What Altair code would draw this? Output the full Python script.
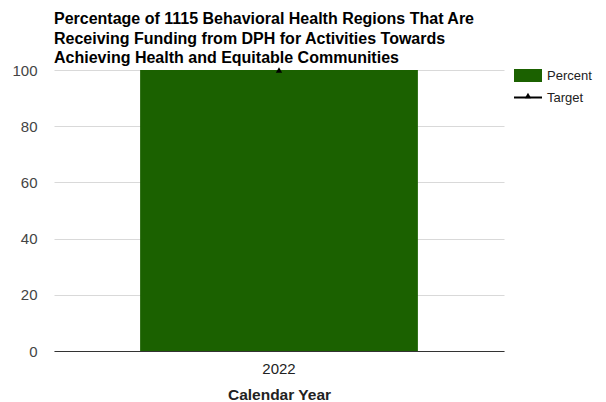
import altair as alt
import pandas as pd

years = ["2022"]
percent = [100]
target = [100]
series = ["Percent", "Target"]
colors = ["#1b6100", "#000000"]
title_lines = [
    "Percentage of 1115 Behavioral Health Regions That Are",
    "Receiving Funding from DPH for Activities Towards",
    "Achieving Health and Equitable Communities",
]
y_ticks = [0, 10, 20, 30, 40, 50, 60, 70, 80, 90, 100]

bar_df = pd.DataFrame({"year": years, "value": percent, "series": "Percent"})
tgt_df = pd.DataFrame({"year": years, "value": target, "series": "Target"})
leg_p = pd.DataFrame({"label": [series[0]]})
leg_t = pd.DataFrame({"label": [series[1]]})

FONT = "Liberation Sans"

color_scale = alt.Scale(domain=series, range=colors)
x_enc = alt.X(
    "year:N",
    title="Calendar Year",
    scale=alt.Scale(paddingInner=0, paddingOuter=0.31),
    axis=alt.Axis(
        labelAngle=0, labelFont=FONT, labelFontSize=15, labelColor="#222222",
        labelPadding=10, ticks=False, domainColor="#333333", domainWidth=1,
        titleFont=FONT, titleFontSize=15.5, titleFontWeight="bold",
        titleColor="#222222", titlePadding=11, grid=False,
    ),
)
y_enc = alt.Y(
    "value:Q",
    title=None,
    scale=alt.Scale(domain=[0, 100], nice=False),
    axis=alt.Axis(
        values=y_ticks,
        labelExpr="datum.value % 20 == 0 ? datum.label : ''",
        labelFont=FONT, labelFontSize=15, labelColor="#444444",
        labelPadding=17, ticks=False, domain=False,
        gridColor={"condition": {"test": "datum.value % 20 == 0", "value": "#d9d9d9"}, "value": "#efefef"},
        gridWidth=1,
    ),
)

bars = alt.Chart(bar_df).mark_bar().encode(
    x=x_enc,
    y=y_enc,
    color=alt.Color("series:N", scale=color_scale, legend=None),
)

points = alt.Chart(tgt_df).mark_point(
    shape="triangle-up", filled=True, size=40, opacity=1
).encode(
    x="year:N",
    y="value:Q",
    color=alt.Color("series:N", scale=color_scale, legend=None),
)

# legend
lx0, lx1 = 460, 488
leg_rect = alt.Chart(leg_p).mark_rect(color=colors[0]).encode(
    x=alt.value(lx0), x2=alt.value(lx1), y=alt.value(-1), y2=alt.value(12)
)
leg_rect_txt = alt.Chart(leg_p).mark_text(
    align="left", baseline="middle", font=FONT, fontSize=13, color="#222222"
).encode(x=alt.value(lx1 + 5), y=alt.value(5.5), text="label:N")
leg_line = alt.Chart(leg_t).mark_rule(color=colors[1], strokeWidth=2).encode(
    x=alt.value(lx0), x2=alt.value(lx1), y=alt.value(27.5)
)
leg_tri = alt.Chart(leg_t).mark_point(
    shape="triangle-up", filled=True, size=40, opacity=1, color=colors[1]
).encode(x=alt.value((lx0 + lx1) / 2), y=alt.value(25.5))
leg_line_txt = alt.Chart(leg_t).mark_text(
    align="left", baseline="middle", font=FONT, fontSize=13, color="#222222"
).encode(x=alt.value(lx1 + 5), y=alt.value(27.5), text="label:N")

chart = alt.layer(
    bars, points, leg_rect, leg_rect_txt, leg_line, leg_tri, leg_line_txt
).properties(
    width=450,
    height=281,
    autosize=alt.AutoSizeParams(type="none"),
    padding={"left": 46, "top": 62, "right": 94, "bottom": 51},
    title=alt.TitleParams(
        text=title_lines, anchor="start", frame="group", font=FONT, fontSize=16,
        fontWeight="bold", color="#000000", lineHeight=19.5, offset=-3,
    ),
).configure_view(stroke=None)

chart.save("out.html", embed_options={"renderer": "svg", "actions": False})
